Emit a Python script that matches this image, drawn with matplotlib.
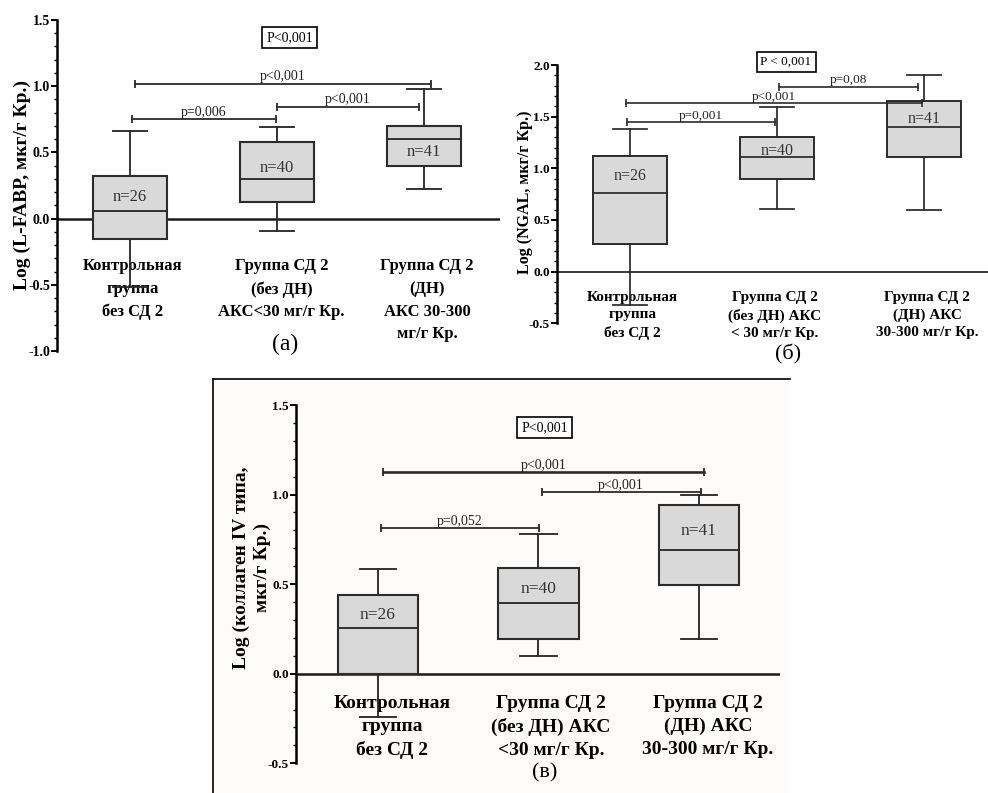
import matplotlib
matplotlib.use('Agg')
import matplotlib.pyplot as plt
from matplotlib.ticker import MultipleLocator, FormatStrFormatter
from matplotlib.lines import Line2D
from matplotlib.patches import Rectangle

plt.rcParams['axes.unicode_minus'] = False
SERIF = ['Liberation Serif', 'DejaVu Serif']

W, H = 988, 793

# ---- данные (а) L-FABP ----
labels_a = ['Контрольная\nгруппа\nбез СД 2',
            'Группа СД 2\n(без ДН)\nАКС<30 мг/г Кр.',
            'Группа СД 2\n(ДН)\nАКС 30-300\nмг/г Кр.']
n_a = [26, 40, 41]
lo_a = [-0.52, -0.095, 0.226]
q1_a = [-0.153, 0.128, 0.40]
med_a = [0.055, 0.30, 0.60]
q3_a = [0.32, 0.575, 0.70]
hi_a = [0.66, 0.69, 0.98]
n_y_a = [0.16, 0.38, 0.50]
# сравнения: начало, конец, уровень, подпись
cmp_x0_a = [1.014, 1.034, 2.0]
cmp_x1_a = [1.993, 3.048, 2.966]
cmp_y_a = [0.75, 1.02, 0.845]
cmp_txt_a = ['p=0,006', 'p<0,001', 'p<0,001']

# ---- данные (б) NGAL ----
labels_b = ['Контрольная\nгруппа\nбез СД 2',
            'Группа СД 2\n(без ДН) АКС\n< 30 мг/г Кр.',
            'Группа СД 2\n(ДН) АКС\n30-300 мг/г Кр.']
n_b = [26, 40, 41]
lo_b = [-0.32, 0.607, 0.597]
q1_b = [0.27, 0.894, 1.107]
med_b = [0.765, 1.107, 1.40]
q3_b = [1.12, 1.30, 1.65]
hi_b = [1.38, 1.59, 1.90]
n_y_b = [0.93, 1.17, 1.48]
cmp_x0_b = [0.98, 0.973, 2.014]
cmp_x1_b = [1.986, 2.986, 2.959]
cmp_y_b = [1.45, 1.635, 1.79]
cmp_txt_b = ['p=0,001', 'p<0,001', 'p=0,08']

# ---- данные (в) коллаген IV типа ----
labels_c = ['Контрольная\nгруппа\nбез СД 2',
            'Группа СД 2\n(без ДН) АКС\n<30 мг/г Кр.',
            'Группа СД 2\n(ДН) АКС\n30-300 мг/г Кр.']
n_c = [26, 40, 41]
lo_c = [-0.243, 0.097, 0.196]
q1_c = [0.0, 0.196, 0.494]
med_c = [0.257, 0.395, 0.693]
q3_c = [0.44, 0.59, 0.94]
hi_c = [0.587, 0.78, 0.997]
n_y_c = [0.326, 0.475, 0.795]
cmp_x0_c = [1.017, 1.031, 2.02]
cmp_x1_c = [2.003, 3.031, 3.01]
cmp_y_c = [0.816, 1.127, 1.015]
cmp_txt_c = ['p=0,052', 'p<0,001', 'p<0,001']


def px(x, y):
    return x / W, 1 - y / H


def make_axes(x0, x1, ytop, ybot, xlim, ylim):
    ax = fig.add_axes([x0 / W, 1 - ybot / H, (x1 - x0) / W, (ybot - ytop) / H])
    ax.patch.set_alpha(0)
    for s in ['top', 'right', 'bottom']:
        ax.spines[s].set_visible(False)
    ax.spines['left'].set_linewidth(1.8)
    ax.yaxis.set_major_locator(MultipleLocator(0.5))
    ax.yaxis.set_minor_locator(MultipleLocator(0.1))
    ax.yaxis.set_major_formatter(FormatStrFormatter('%.1f'))
    ax.tick_params(axis='y', which='major', length=4, width=1.4, pad=1)
    ax.tick_params(axis='y', which='minor', length=2.5, width=1.0)
    return ax, xlim, ylim


def draw_boxes(ax, lo, q1, med, q3, hi, lw=1.5):
    stats = [dict(whislo=a, q1=b, med=c, q3=d, whishi=e, fliers=[])
             for a, b, c, d, e in zip(lo, q1, med, q3, hi)]
    ax.bxp(stats, positions=[1, 2, 3], widths=0.5, capwidths=0.23,
           patch_artist=True, showfliers=False, manage_ticks=False,
           boxprops=dict(facecolor='#d9d9d9', edgecolor='#2b2b2b', linewidth=lw),
           medianprops=dict(color='#2b2b2b', linewidth=lw * 0.9),
           whiskerprops=dict(color='#2b2b2b', linewidth=lw * 0.9),
           capprops=dict(color='#2b2b2b', linewidth=lw * 0.9),
           zorder=2)


def finish(ax, xlim, ylim, ticksize):
    ax.set_xlim(*xlim)
    ax.set_ylim(*ylim)
    ax.set_xticks([])
    for lab in ax.get_yticklabels():
        lab.set_family(SERIF)
        lab.set_fontweight('bold')
        lab.set_fontsize(ticksize)


def draw_cmp(ax, x0, x1, y, txt, fs, dy, lw=1.3):
    for a, b, c, t in zip(x0, x1, y, txt):
        ax.plot([a, b], [c, c], color='#2b2b2b', lw=lw, marker='|',
                markersize=6, markeredgewidth=lw, zorder=3)
        ax.text((a + b) / 2, c + dy, t, ha='center', va='center',
                fontsize=fs, family=SERIF, color='#222222', zorder=4)


fig = plt.figure(figsize=(9.88, 7.93), dpi=100)

# рамка панели (в)
fig.patches.append(Rectangle(px(213, 793), (790 - 213) / W, (793 - 379) / H,
                             transform=fig.transFigure, facecolor='#fdfcfa',
                             edgecolor='none', zorder=-5))
fig.lines.append(Line2D([213 / W, 790 / W], [1 - 379 / H, 1 - 379 / H],
                        transform=fig.transFigure, color='black', lw=1.2, zorder=-4))
fig.lines.append(Line2D([213 / W, 213 / W], [1 - 379 / H, 0],
                        transform=fig.transFigure, color='black', lw=1.2, zorder=-4))

# ---------- (а) ----------
ax, xl, yl = make_axes(57, 500, 20, 351, (0.503, 3.517), (-1.0, 1.5))
ax.axhline(0, color='#1a1a1a', lw=1.8, zorder=1)
draw_boxes(ax, lo_a, q1_a, med_a, q3_a, hi_a)
draw_cmp(ax, cmp_x0_a, cmp_x1_a, cmp_y_a, cmp_txt_a, 10, 0.055)
for i, (n, y) in enumerate(zip(n_a, n_y_a)):
    ax.text(i + 1, y, f'n={n}', ha='center', va='center', fontsize=12,
            family=SERIF, color='#333333', zorder=4)
for x, t in zip([1.02, 2.03, 3.02], labels_a):
    ax.text(x, -0.30, t, ha='center', va='top', fontsize=12, fontweight='bold',
            family=SERIF, linespacing=1.55, zorder=1)
ax.text(2.088, 1.37, 'P<0,001', ha='center', va='center', fontsize=10, family=SERIF,
        bbox=dict(boxstyle='square,pad=0.3', facecolor='white', edgecolor='black', lw=1.2))
ax.text(2.054, -0.95, '(а)', ha='center', va='center', fontsize=17, family=SERIF)
finish(ax, xl, yl, 10)
fig.text(*px(22, 185), 'Log (L-FABP, мкг/г Кр.)', rotation=90, ha='center', va='center',
         fontsize=14, fontweight='bold', family=SERIF)

# ---------- (б) ----------
ax, xl, yl = make_axes(557, 988, 65, 323.3, (0.503, 3.435), (-0.5, 2.0))
ax.axhline(0, color='#1a1a1a', lw=1.2, zorder=1)
draw_boxes(ax, lo_b, q1_b, med_b, q3_b, hi_b, lw=1.4)
draw_cmp(ax, cmp_x0_b, cmp_x1_b, cmp_y_b, cmp_txt_b, 9.5, 0.06, lw=1.2)
for i, (n, y) in enumerate(zip(n_b, n_y_b)):
    ax.text(i + 1, y, f'n={n}', ha='center', va='center', fontsize=11.5,
            family=SERIF, color='#333333', zorder=4)
for x, t in zip([1.014, 1.986, 3.02], labels_b):
    ax.text(x, -0.19, t, ha='center', va='top', fontsize=11, fontweight='bold',
            family=SERIF, linespacing=1.4, zorder=1)
ax.text(2.061, 2.03, 'P < 0,001', ha='center', va='center', fontsize=9.5, family=SERIF,
        bbox=dict(boxstyle='square,pad=0.3', facecolor='white', edgecolor='black', lw=1.2))
ax.text(2.075, -0.805, '(б)', ha='center', va='center', fontsize=16, family=SERIF)
finish(ax, xl, yl, 9.5)
fig.text(*px(525, 192), 'Log (NGAL, мкг/г Кр.)', rotation=90, ha='center', va='center',
         fontsize=11.5, fontweight='bold', family=SERIF)

# ---------- (в) ----------
ax, xl, yl = make_axes(296, 780, 405, 763.3, (0.489, 3.505), (-0.5, 1.5))
ax.axhline(0, color='#1a1a1a', lw=1.8, zorder=1)
draw_boxes(ax, lo_c, q1_c, med_c, q3_c, hi_c)
draw_cmp(ax, cmp_x0_c, cmp_x1_c, cmp_y_c, cmp_txt_c, 10, 0.035)
ax.lines[-2].set_linewidth(1.9)
for i, (n, y) in enumerate(zip(n_c, n_y_c)):
    ax.text(i + 1, y, f'n={n}', ha='center', va='center', fontsize=12.5,
            family=SERIF, color='#333333', zorder=4)
for x, t in zip([1.087, 2.078, 3.056], labels_c):
    ax.text(x, -0.12, t, ha='center', va='top', fontsize=14, fontweight='bold',
            family=SERIF, linespacing=1.42, zorder=1)
ax.text(2.04, 1.375, 'P<0,001', ha='center', va='center', fontsize=10, family=SERIF,
        bbox=dict(boxstyle='square,pad=0.3', facecolor='white', edgecolor='black', lw=1.2))
ax.text(2.04, -0.555, '(в)', ha='center', va='center', fontsize=16, family=SERIF)
finish(ax, xl, yl, 9.5)
fig.text(*px(252, 568), 'Log (коллаген IV типа,\nмкг/г Кр.)', rotation=90, ha='center',
         va='center', fontsize=14, fontweight='bold', family=SERIF, linespacing=1.3)

fig.savefig('out.png', dpi=100, facecolor='white')
